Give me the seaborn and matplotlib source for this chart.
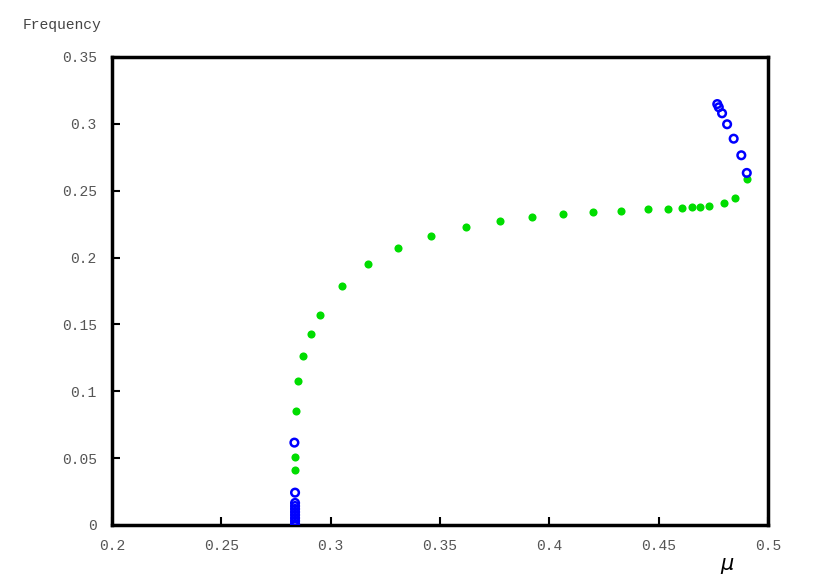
import numpy as np
import pandas as pd
import seaborn as sns
import matplotlib.pyplot as plt

# green branch (filled)
green_mu = [0.2837, 0.2837, 0.2841, 0.2852, 0.2875, 0.2909, 0.2950, 0.3050, 0.3171,
            0.3307, 0.3458, 0.3618, 0.3773, 0.3921, 0.4064, 0.4200, 0.4328, 0.4453,
            0.4541, 0.4607, 0.4654, 0.4689, 0.4730, 0.4800, 0.4851, 0.4905]
green_freq = [0.0411, 0.0511, 0.0853, 0.1077, 0.1266, 0.1431, 0.1568, 0.1787, 0.1950,
              0.2069, 0.2161, 0.2231, 0.2276, 0.2306, 0.2328, 0.2341, 0.2351, 0.2361,
              0.2365, 0.2371, 0.2376, 0.2381, 0.2388, 0.2410, 0.2443, 0.2585]

# blue branch (open circles)
blue_mu = [0.4768, 0.4775, 0.4790, 0.4813, 0.4843, 0.4878, 0.4903,
           0.2834, 0.2837, 0.2837, 0.2837, 0.2837, 0.2837, 0.2837, 0.2837, 0.2837, 0.2837, 0.2837]
blue_freq = [0.3148, 0.3124, 0.3079, 0.2997, 0.2889, 0.2765, 0.2633,
             0.0616, 0.0242, 0.0165, 0.0142, 0.0120, 0.0097, 0.0075, 0.0052, 0.0030, 0.0007, 0.0]

xticks = [0.2, 0.25, 0.3, 0.35, 0.4, 0.45, 0.5]
yticks = [0, 0.05, 0.1, 0.15, 0.2, 0.25, 0.3, 0.35]

sns.set_style("white")
plt.rcParams['font.family'] = ['Liberation Mono', 'DejaVu Sans Mono']

fig = plt.figure(figsize=(8.22, 5.81), dpi=100)
ax = fig.add_axes([0.1363, 0.0964, 0.798, 0.8055])

df_g = pd.DataFrame({'mu': green_mu, 'freq': green_freq})
df_b = pd.DataFrame({'mu': blue_mu, 'freq': blue_freq})

sns.scatterplot(data=df_g, x='mu', y='freq', ax=ax, color='#00dd00', s=34,
                edgecolor='#00dd00', linewidth=0, zorder=3)
sns.scatterplot(data=df_b, x='mu', y='freq', ax=ax, s=30, facecolor='none',
                edgecolor='#0000ff', linewidth=1.8, zorder=4)

ax.set_xlim(0.2, 0.5)
ax.set_ylim(0, 0.35)
ax.set_xticks(xticks)
ax.set_yticks(yticks)
ax.set_xticklabels([('%g' % v) for v in xticks])
ax.set_yticklabels([('%g' % v) for v in yticks])
ax.tick_params(direction='in', length=6, width=1.5, colors='black',
               labelcolor='#555555', labelsize=10.5, top=False, right=False,
               bottom=True, left=True)
ax.tick_params(axis='x', pad=10)
ax.tick_params(axis='y', pad=11)
for sp in ax.spines.values():
    sp.set_linewidth(2.5)
    sp.set_color('black')

ax.set_xlabel('')
ax.set_ylabel('')
fig.text(0.075, 0.957, 'Frequency', ha='center', va='center', fontsize=10.5, color='#444444')
fig.text(0.885, 0.026, r'$\mu$', ha='center', va='center', fontsize=15, color='black')

fig.savefig('out.png', dpi=100)
